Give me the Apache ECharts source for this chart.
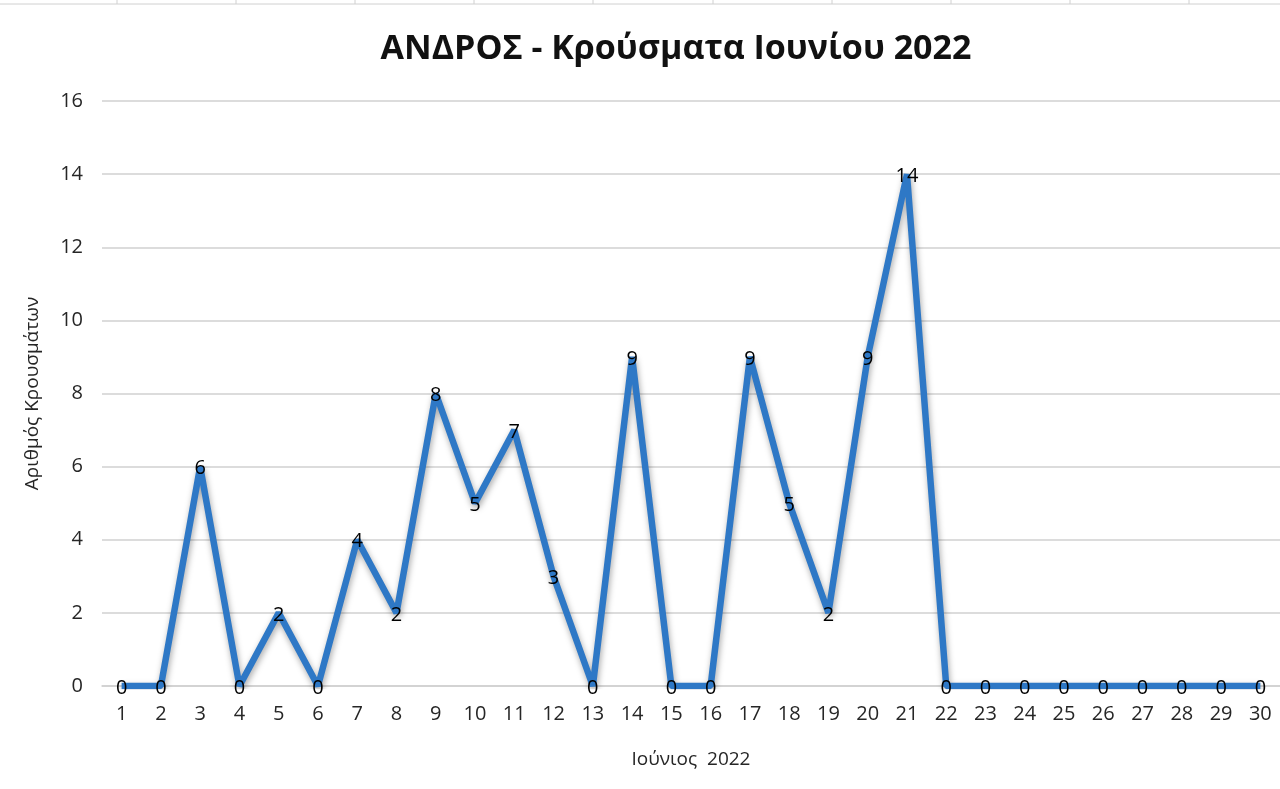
<!DOCTYPE html>
<html>
<head>
<meta charset="utf-8">
<script src="https://cdn.jsdelivr.net/npm/echarts@6/dist/echarts.min.js"></script>
<style>html,body{margin:0;padding:0;background:#fff;}#c{width:1280px;height:789px;}</style>
</head>
<body>
<div id="c"></div>
<script>
const days = ['1','2','3','4','5','6','7','8','9','10','11','12','13','14','15','16','17','18','19','20','21','22','23','24','25','26','27','28','29','30'];
const cases = [0,0,6,0,2,0,4,2,8,5,7,3,0,9,0,0,9,5,2,9,14,0,0,0,0,0,0,0,0,0];
const yTicks = {min:0, max:16, interval:2};
const titleText = 'ΑΝΔΡΟΣ - Κρούσματα Ιουνίου 2022';
const yName = 'Αριθμός Κρουσμάτων';
const xName = 'Ιούνιος  2022';

const chart = echarts.init(document.getElementById('c'));
const font = '"Open Sans", "Noto Sans", sans-serif';
const sheetLines = [];
sheetLines.push({type:'line', shape:{x1:0,y1:4,x2:1280,y2:4}, style:{stroke:'#d0d0d0', lineWidth:1}, silent:true});
[117,236,355,474,593,713,832,951,1070,1189].forEach(x=>{
  sheetLines.push({type:'line', shape:{x1:x,y1:0,x2:x,y2:4}, style:{stroke:'#d0d0d0', lineWidth:1}, silent:true});
});
chart.setOption({
  backgroundColor:'#fff',
  animation:false,
  graphic: sheetLines,
  title:{text:titleText, left:671, top:27, textAlign:'center',
    textStyle:{fontFamily:font, fontWeight:'bold', fontSize:34, color:'#111'}},
  grid:{left:102, right:0, top:101, bottom:103, containLabel:false},
  xAxis:{type:'category', data:days, boundaryGap:true,
    name:xName, nameLocation:'middle', nameGap:64,
    nameTextStyle:{fontFamily:font, fontSize:19, color:'#262626'},
    axisLine:{lineStyle:{color:'#d0d0d0', width:1.5}},
    axisTick:{show:false},
    axisLabel:{fontFamily:font, fontSize:20, color:'#262626', margin:18}},
  yAxis:{type:'value', min:yTicks.min, max:yTicks.max, interval:yTicks.interval,
    name:yName, nameLocation:'middle', nameGap:60, nameRotate:90,
    nameTextStyle:{fontFamily:font, fontSize:19, color:'#262626'},
    axisLine:{show:false}, axisTick:{show:false},
    splitLine:{lineStyle:{color:'#d0d0d0', width:1.5}},
    axisLabel:{fontFamily:font, fontSize:20, color:'#262626', margin:19}},
  series:[{type:'line', data:cases, symbol:'circle', symbolSize:0.1, showSymbol:true,
    lineStyle:{color:'#2E78C6', width:6.5, shadowColor:'rgba(0,0,0,0.35)', shadowBlur:6, shadowOffsetY:3, shadowOffsetX:1},
    itemStyle:{color:'#2E78C6'},
    label:{show:true, position:'inside', offset:[0,2], fontFamily:font, fontSize:20, color:'#000'}}]
});
</script>
</body>
</html>
